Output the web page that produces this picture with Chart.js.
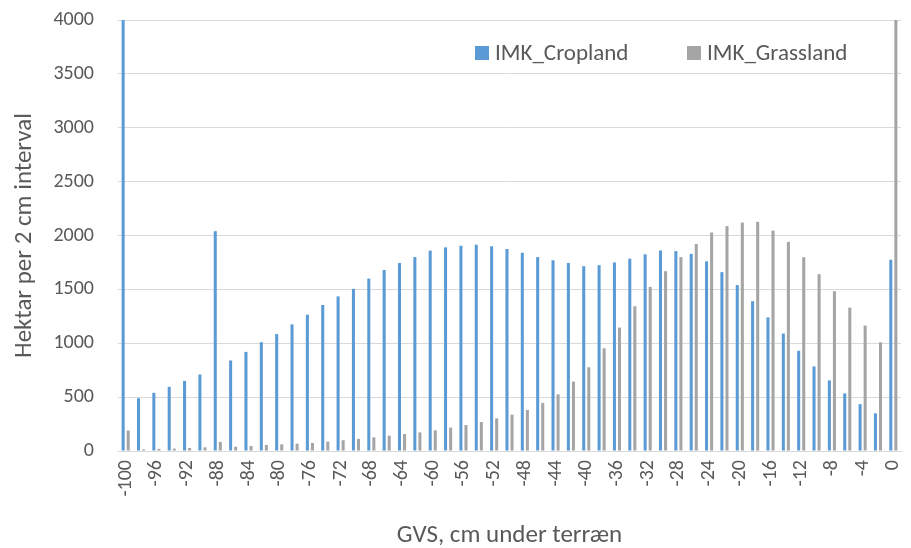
<!DOCTYPE html>
<html><head><meta charset="utf-8">
<script src="https://cdn.jsdelivr.net/npm/chart.js@4/dist/chart.umd.min.js"></script>
<style>html,body{margin:0;padding:0;background:#fff}</style>
</head><body>
<canvas id="c" width="911" height="548"></canvas>
<script>
const categories = ['-100','-98','-96','-94','-92','-90','-88','-86','-84','-82','-80','-78','-76','-74','-72','-70','-68','-66','-64','-62','-60','-58','-56','-54','-52','-50','-48','-46','-44','-42','-40','-38','-36','-34','-32','-30','-28','-26','-24','-22','-20','-18','-16','-14','-12','-10','-8','-6','-4','-2','0'];
const cropland = [4600,490,540,595,650,710,2040,840,920,1010,1085,1175,1265,1355,1435,1505,1600,1680,1745,1800,1860,1890,1905,1915,1900,1875,1840,1800,1770,1745,1715,1725,1750,1785,1825,1860,1855,1830,1760,1660,1540,1390,1240,1090,930,785,655,535,435,350,1775];
const grassland = [190,15,20,22,28,34,85,40,46,56,62,68,75,87,100,112,127,142,158,173,192,217,241,269,303,337,381,446,526,644,777,953,1145,1343,1523,1669,1799,1922,2028,2087,2120,2127,2046,1941,1799,1641,1483,1331,1164,1009,4600];
const xTickLabels = ['-100','-96','-92','-88','-84','-80','-76','-72','-68','-64','-60','-56','-52','-48','-44','-40','-36','-32','-28','-24','-20','-16','-12','-8','-4','0'];
const seriesNames = ['IMK_Cropland','IMK_Grassland'];
const yMin = 0, yMax = 4000, yStep = 500;

const FONT = "Carlito, Lato, 'Open Sans', sans-serif";
const TXT = '#595959';
const PAD = { top: 20, right: 10, left: 8, bottom: 0 };

function noPad(s) { s.paddingTop = 0; s.paddingBottom = 0; s.paddingLeft = 0; s.paddingRight = 0; }

const legendPlugin = {
  id: 'insideLegend',
  afterDraw(chart) {
    const ctx = chart.ctx, ca = chart.chartArea;
    const starts = [ca.left + 357, ca.left + 569];
    ctx.save();
    ctx.font = "23px " + FONT;
    ctx.textBaseline = 'middle';
    chart.data.datasets.forEach((ds, i) => {
      const x = starts[i], y = ca.top + 33;
      ctx.fillStyle = ds.backgroundColor;
      ctx.fillRect(x, y - 7, 14, 14);
      ctx.fillStyle = TXT;
      ctx.fillText(ds.label, x + 20, y + 1);
    });
    ctx.restore();
  }
};

new Chart(document.getElementById('c'), {
  type: 'bar',
  data: {
    labels: categories,
    datasets: [
      { label: seriesNames[0], data: cropland, backgroundColor: '#5b9bd5', categoryPercentage: 0.66, barPercentage: 0.6, clip: 0 },
      { label: seriesNames[1], data: grassland, backgroundColor: '#a5a5a5', categoryPercentage: 0.66, barPercentage: 0.6, clip: 0 }
    ]
  },
  options: {
    responsive: false,
    animation: false,
    layout: { padding: PAD },
    plugins: { legend: { display: false }, tooltip: { enabled: false } },
    scales: {
      x: {
        offset: true,
        afterFit(s) { s.height = 548 - 451 - PAD.bottom; noPad(s); },
        grid: { display: false, drawTicks: false },
        border: { display: true, color: '#d9d9d9', width: 1 },
        ticks: {
          autoSkip: false, maxRotation: 90, minRotation: 90, padding: 9,
          color: TXT, font: { family: FONT, size: 20 },
          callback: function(v, i) { const l = categories[i]; return xTickLabels.includes(l) ? l : ''; }
        },
        title: { display: true, text: 'GVS, cm under terræn', color: TXT, font: { family: FONT, size: 25, lineHeight: 1.0 }, padding: { top: 0, bottom: 0 } }
      },
      y: {
        min: yMin, max: yMax,
        afterFit(s) { s.width = 118 - PAD.left; noPad(s); },
        grid: { color: '#d9d9d9', lineWidth: 1, drawTicks: false },
        border: { display: false },
        ticks: { stepSize: yStep, padding: 24, color: TXT, font: { family: FONT, size: 20 }, callback: v => String(v) },
        title: { display: true, text: 'Hektar per 2 cm interval', color: TXT, font: { family: FONT, size: 25 }, padding: { top: 2, bottom: 0 } }
      }
    }
  },
  plugins: [legendPlugin]
});
</script>
</body></html>
